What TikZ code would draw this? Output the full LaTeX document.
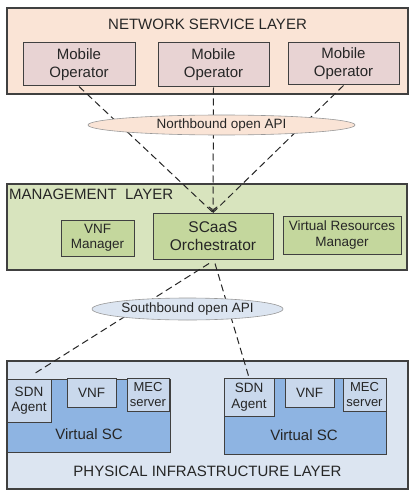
\documentclass[tikz,border=0pt]{standalone}
\usepackage{fontspec}
\setmainfont{Liberation Sans}
\usetikzlibrary{shapes.geometric,arrows.meta,calc}
\definecolor{nsl}{HTML}{FAE4D6}
\definecolor{mob}{HTML}{E8D3D3}
\definecolor{mgl}{HTML}{D8E4BE}
\definecolor{mgb}{HTML}{C4D79D}
\definecolor{phl}{HTML}{DCE5F1}
\definecolor{vsc}{HTML}{8EB4E2}
\definecolor{phb}{HTML}{C9D8EC}
\definecolor{edge}{HTML}{404040}
\definecolor{txt}{HTML}{262626}
\tikzset{
  layer/.style={draw=edge, line width=1.2pt, inner sep=0pt, text=txt},
  ibox/.style={draw=edge, line width=1pt, inner sep=0pt, align=center, text=txt},
  bigf/.style={font=\fontsize{15}{18}\selectfont},
  smf/.style={font=\fontsize{13.5}{15.5}\selectfont},
  lbl/.style={inner sep=0pt, text=txt},
  api/.style={ellipse, draw=gray!80, line width=0.6pt, inner sep=0pt, text=txt, font=\fontsize{13.5}{16}\selectfont},
  dline/.style={draw=black!85, line width=1pt, dash pattern=on 7pt off 4pt},
}
\begin{document}
\begin{tikzpicture}[x=1pt,y=-1pt]
\useasboundingbox (0,0) rectangle (414,492);
\fill[white] (0,0) rectangle (414,492);
% Network service layer
\node[layer, fill=nsl, minimum width=401pt, minimum height=86pt] (nsl) at (207.5,51) {};
\node[lbl, bigf] (nsltitle) at (207.5,24) {NETWORK SERVICE LAYER};
\node[ibox, bigf, fill=mob, minimum width=112pt, minimum height=43pt] (mo1) at (79,64.5) {Mobile\\Operator};
\node[ibox, bigf, fill=mob, minimum width=111pt, minimum height=44pt] (mo2) at (213.5,65) {Mobile\\Operator};
\node[ibox, bigf, fill=mob, minimum width=111pt, minimum height=42pt] (mo3) at (343.5,64) {Mobile\\Operator};
% Management layer
\node[layer, fill=mgl, minimum width=400pt, minimum height=86pt] (mgl) at (207,227) {};
\node[lbl, bigf, anchor=west] (mgltitle) at (9,194) {MANAGEMENT\ \ LAYER};
\node[ibox, smf, fill=mgb, minimum width=73pt, minimum height=36pt] (vnfm) at (97.5,238) {VNF\\Manager};
\node[ibox, fill=mgb, minimum width=120pt, minimum height=46pt, font=\fontsize{15.5}{18}\selectfont] (orch) at (213,236) {SCaaS\\Orchestrator};
\node[ibox, smf, fill=mgb, minimum width=118pt, minimum height=38pt] (vrm) at (342,235) {Virtual Resources\\Manager};
% Physical infrastructure layer
\node[layer, fill=phl, minimum width=401pt, minimum height=128pt] (phl) at (207.5,425) {};
\node[lbl, bigf] (phltitle) at (207.5,471) {PHYSICAL INFRASTRUCTURE LAYER};
\node[ibox, fill=vsc, minimum width=163pt, minimum height=73pt] (vsc1) at (88.5,415.5) {};
\node[lbl, bigf] (vsc1l) at (89,434) {Virtual SC};
\node[ibox, smf, fill=phb, minimum width=44pt, minimum height=43pt] (sdn1) at (29,400.5) {SDN\\Agent};
\node[ibox, smf, fill=phb, minimum width=49pt, minimum height=29pt] (vnf1) at (91.5,392.5) {VNF};
\node[ibox, smf, fill=phb, minimum width=42pt, minimum height=33pt, font=\fontsize{13}{15}\selectfont] (mec1) at (148,394.5) {MEC\\server};
\node[ibox, fill=vsc, minimum width=162pt, minimum height=76pt] (vsc2) at (305,416) {};
\node[lbl, bigf] (vsc2l) at (304,435) {Virtual SC};
\node[ibox, smf, fill=phb, minimum width=50pt, minimum height=38pt] (sdn2) at (249,397) {SDN\\Agent};
\node[ibox, smf, fill=phb, minimum width=49pt, minimum height=29pt] (vnf2) at (309.5,392.5) {VNF};
\node[ibox, smf, fill=phb, minimum width=43pt, minimum height=33pt, font=\fontsize{13}{15}\selectfont] (mec2) at (364.5,394.5) {MEC\\server};
% Connectors
\draw[dline] (mo1.south) -- (orch.north);
\draw[dline, -{To[length=6pt,width=9pt]}] (mo2.south) -- (orch.north);
\draw[dline] (mo3.south) -- (orch.north);
\draw[dline] ($(orch.south)+(-4,4)$) -- ($(sdn1.north)+(4,-4)$);
\draw[dline] ($(orch.south)+(2,4)$) -- ($(sdn2.north)+(0,0)$);
% API ellipses
\node[api, fill=nsl, minimum width=267pt, minimum height=20pt] (north) at (221.5,125) {Northbound open API};
\node[api, fill=phl, minimum width=191pt, minimum height=22pt] (south) at (187.5,309) {Southbound open API};
\end{tikzpicture}
\end{document}
